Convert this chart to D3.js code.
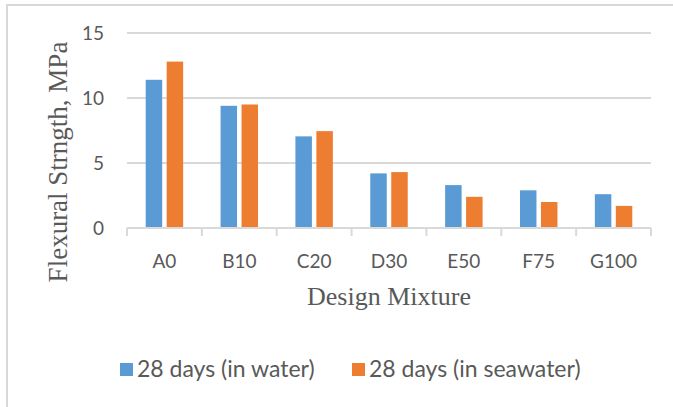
<!DOCTYPE html>
<html>
<head>
<meta charset="utf-8">
<script src="https://cdn.jsdelivr.net/npm/d3@7"></script>
<style>
  html, body { margin: 0; padding: 0; background: #fff; }
  svg { display: block; }
</style>
</head>
<body>
<svg id="chart" width="673" height="407"></svg>
<script>
// Flexural strength at 28 days, per design mixture
const categories = ["A0", "B10", "C20", "D30", "E50", "F75", "G100"];
const seriesNames = ["28 days (in water)", "28 days (in seawater)"];
const inWater    = [11.4, 9.4, 7.05, 4.2, 3.3, 2.9, 2.6];
const inSeawater = [12.8, 9.5, 7.45, 4.3, 2.4, 2.0, 1.7];
const yTicks = [0, 5, 10, 15];
const colors = ["#5b9bd5", "#ed7d31"];

const values = [inWater, inSeawater];
const textColor = "#595959";
const gridColor = "#d9d9d9";
const sansFont = "Lato, 'Open Sans', sans-serif";
const serifFont = "'Liberation Serif', 'DejaVu Serif', serif";

const svg = d3.select("#chart");

// outer frame of the chart area
svg.append("rect")
  .attr("x", 7).attr("y", 5)
  .attr("width", 700).attr("height", 440)
  .attr("fill", "none")
  .attr("stroke", gridColor)
  .attr("stroke-width", 2);

const plot = { left: 127, right: 651, top: 33, bottom: 228 };

const x = d3.scaleBand()
  .domain(categories)
  .range([plot.left, plot.right])
  .paddingInner(0).paddingOuter(0);

const bw = x.bandwidth();
const xSub = d3.scaleBand()
  .domain(seriesNames)
  .range([18.7, bw - 18.7])
  .paddingInner(0.214)
  .paddingOuter(0);

const y = d3.scaleLinear()
  .domain([0, 15])
  .range([plot.bottom, plot.top]);

// horizontal gridlines
svg.append("g")
  .selectAll("line")
  .data(yTicks.filter(t => t !== 0))
  .join("line")
  .attr("x1", plot.left).attr("x2", plot.right)
  .attr("y1", d => y(d)).attr("y2", d => y(d))
  .attr("stroke", gridColor)
  .attr("stroke-width", 2);

// bars
const groups = svg.append("g")
  .selectAll("g")
  .data(categories)
  .join("g")
  .attr("transform", d => `translate(${x(d)},0)`);

groups.selectAll("rect")
  .data((c, i) => seriesNames.map((s, k) => ({ s, k, v: values[k][i] })))
  .join("rect")
  .attr("x", d => xSub(d.s))
  .attr("width", xSub.bandwidth())
  .attr("y", d => y(d.v))
  .attr("height", d => y(0) - y(d.v))
  .attr("fill", d => colors[d.k]);

// category axis: baseline and boundary ticks
const xAxisG = svg.append("g");
xAxisG.append("line")
  .attr("x1", plot.left).attr("x2", plot.right)
  .attr("y1", y(0)).attr("y2", y(0))
  .attr("stroke", gridColor).attr("stroke-width", 2);
const boundaries = categories.map(c => x(c)).concat([x.range()[1]]);
xAxisG.selectAll("line.tick")
  .data(boundaries)
  .join("line")
  .attr("class", "tick")
  .attr("x1", d => d).attr("x2", d => d)
  .attr("y1", y(0)).attr("y2", y(0) + 8)
  .attr("stroke", gridColor).attr("stroke-width", 2);

// category labels
const xLabels = svg.append("g")
  .attr("transform", `translate(0,${y(0)})`)
  .call(d3.axisBottom(x).tickSize(0).tickPadding(0));
xLabels.select(".domain").remove();
xLabels.selectAll("text")
  .attr("dy", null)
  .attr("y", 40)
  .attr("fill", textColor)
  .style("font-family", sansFont)
  .style("font-size", "19px");

// value labels
const yLabels = svg.append("g")
  .attr("transform", `translate(${plot.left},0)`)
  .call(d3.axisLeft(y).tickValues(yTicks).tickSize(0).tickPadding(23));
yLabels.select(".domain").remove();
yLabels.selectAll("text")
  .attr("dy", "0.36em")
  .attr("fill", textColor)
  .style("font-family", sansFont)
  .style("font-size", "19px");

// axis titles
svg.append("text")
  .attr("x", (plot.left + plot.right) / 2)
  .attr("y", 305)
  .attr("text-anchor", "middle")
  .attr("fill", textColor)
  .style("font-family", serifFont)
  .style("font-size", "26px")
  .text("Design Mixture");

svg.append("text")
  .attr("transform", "translate(67,162) rotate(-90)")
  .attr("text-anchor", "middle")
  .attr("fill", textColor)
  .style("font-family", serifFont)
  .style("font-size", "27px")
  .text("Flexural Strngth, MPa");

// legend
const legendPos = [120, 352];
const legend = svg.append("g")
  .selectAll("g")
  .data(seriesNames)
  .join("g")
  .attr("transform", (d, i) => `translate(${legendPos[i]},0)`);
legend.append("rect")
  .attr("x", 0).attr("y", 363)
  .attr("width", 13).attr("height", 13)
  .attr("fill", (d, i) => colors[i]);
legend.append("text")
  .attr("x", 17).attr("y", 376.5)
  .attr("fill", textColor)
  .style("font-family", sansFont)
  .style("font-size", "23px")
  .text(d => d);
</script>
</body>
</html>
